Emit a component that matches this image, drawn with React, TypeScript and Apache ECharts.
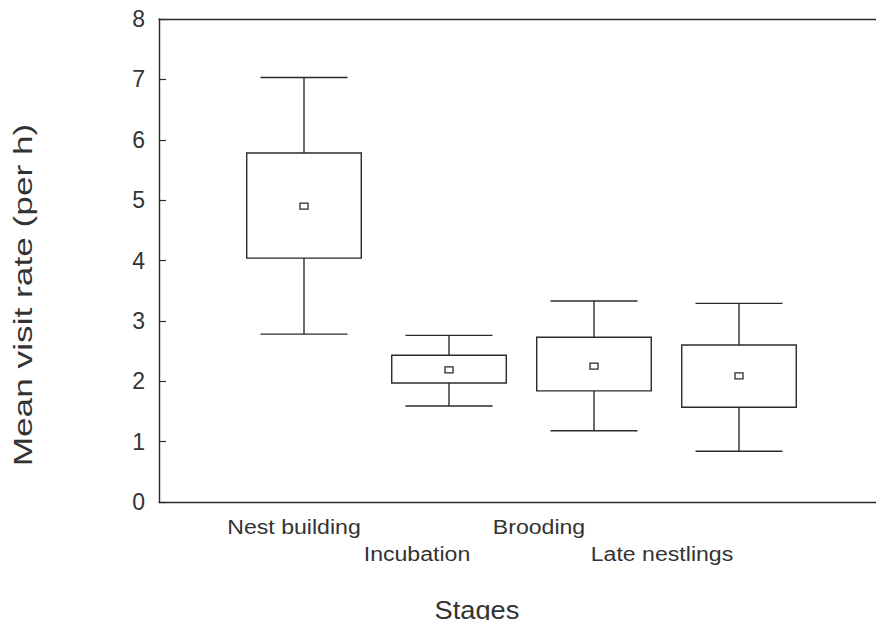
import React, { useEffect, useRef } from "react";
import * as echarts from "echarts";

// Visit rate per breeding stage: whisker low, box low, box high, whisker high, mean
const stages = ["Nest building", "Incubation", "Brooding", "Late nestlings"];
const stagePos = [1, 2, 3, 4];
const whiskerLow = [2.78, 1.59, 1.18, 0.84];
const boxLow = [4.04, 1.97, 1.84, 1.57];
const boxHigh = [5.78, 2.43, 2.73, 2.6];
const whiskerHigh = [7.03, 2.76, 3.33, 3.29];
const means = [4.9, 2.19, 2.25, 2.09];
const yTicks = [0, 1, 2, 3, 4, 5, 6, 7, 8];

const INK = "#2b2b2b";
const FONT = "'Liberation Sans', Arial, sans-serif";

export default function App() {
  const ref = useRef<HTMLDivElement>(null);

  useEffect(() => {
    if (!ref.current) return;
    const chart = echarts.init(ref.current, null, { renderer: "svg" });

    const data = stagePos.map((x, i) => [
      x,
      whiskerLow[i],
      boxLow[i],
      boxHigh[i],
      whiskerHigh[i],
      means[i],
    ]);

    const renderItem = (params: any, api: any) => {
      const x = api.value(0);
      const pLow = api.coord([x, api.value(1)]);
      const pQ1 = api.coord([x, api.value(2)]);
      const pQ3 = api.coord([x, api.value(3)]);
      const pHigh = api.coord([x, api.value(4)]);
      const pMean = api.coord([x, api.value(5)]);
      const boxW = api.size([0.79, 0])[0];
      const capW = api.size([0.6, 0])[0];
      const cx = pQ1[0];
      const lineStyle = { stroke: INK, lineWidth: 1.4, fill: "none" };
      return {
        type: "group",
        children: [
          {
            type: "rect",
            shape: { x: cx - boxW / 2, y: pQ3[1], width: boxW, height: pQ1[1] - pQ3[1] },
            style: { stroke: INK, lineWidth: 1.4, fill: "#fff" },
          },
          { type: "line", shape: { x1: cx, y1: pQ3[1], x2: cx, y2: pHigh[1] }, style: lineStyle },
          { type: "line", shape: { x1: cx, y1: pQ1[1], x2: cx, y2: pLow[1] }, style: lineStyle },
          {
            type: "line",
            shape: { x1: cx - capW / 2, y1: pHigh[1], x2: cx + capW / 2, y2: pHigh[1] },
            style: lineStyle,
          },
          {
            type: "line",
            shape: { x1: cx - capW / 2, y1: pLow[1], x2: cx + capW / 2, y2: pLow[1] },
            style: lineStyle,
          },
          {
            type: "rect",
            shape: { x: pMean[0] - 4, y: pMean[1] - 3, width: 8, height: 6 },
            style: { stroke: INK, lineWidth: 1.3, fill: "#fff" },
          },
        ],
      };
    };

    const labelPos = [
      [294, 527],
      [417, 554],
      [539, 527],
      [662, 554],
    ];

    const frameLine = { show: true, onZero: false, lineStyle: { color: INK, width: 1.4 } };

    chart.setOption({
      animation: false,
      backgroundColor: "#fff",
      grid: { left: 159, top: 19, width: 730, height: 483 },
      xAxis: [
        {
          type: "value",
          min: 0,
          max: 5,
          interval: 1,
          position: "bottom",
          axisLine: frameLine,
          axisTick: { show: false },
          axisLabel: { show: false },
          splitLine: { show: false },
        },
        {
          type: "value",
          min: 0,
          max: 5,
          interval: 1,
          position: "top",
          axisLine: frameLine,
          axisTick: { show: false },
          axisLabel: { show: false },
          splitLine: { show: false },
        },
      ],
      yAxis: [
        {
          type: "value",
          min: 0,
          max: 8,
          interval: 1,
          position: "left",
          axisLine: frameLine,
          axisTick: { show: true, inside: true, length: 7, lineStyle: { color: INK, width: 1.2 } },
          axisLabel: {
            color: "#333",
            fontFamily: FONT,
            fontSize: 23,
            margin: 14,
            formatter: (v: number) => (yTicks.includes(v) ? String(v) : ""),
          },
          splitLine: { show: false },
        },
        {
          type: "value",
          min: 0,
          max: 8,
          interval: 1,
          position: "right",
          axisLine: frameLine,
          axisTick: { show: true, inside: true, length: 7, lineStyle: { color: INK, width: 1.2 } },
          axisLabel: { show: false },
          splitLine: { show: false },
        },
      ],
      series: [
        {
          type: "custom",
          xAxisIndex: 0,
          yAxisIndex: 0,
          renderItem,
          data,
          z: 3,
        },
      ],
      graphic: [
        ...stages.map((s, i) => ({
          type: "text",
          x: labelPos[i][0],
          y: labelPos[i][1],
          scaleX: 1.1,
          style: {
            text: s,
            fontFamily: FONT,
            fontSize: 21,
            fill: "#333",
            align: "center",
            verticalAlign: "middle",
          },
        })),
        {
          type: "text",
          x: 477,
          y: 610,
          scaleX: 1.09,
          style: {
            text: "Stages",
            fontFamily: FONT,
            fontSize: 25,
            fill: "#333",
            align: "center",
            verticalAlign: "middle",
          },
        },
        {
          type: "text",
          x: 23,
          y: 295,
          rotation: Math.PI / 2,
          scaleX: 1.41,
          style: {
            text: "Mean visit rate (per h)",
            fontFamily: FONT,
            fontSize: 25,
            fill: "#333",
            align: "center",
            verticalAlign: "middle",
          },
        },
      ],
    });

    return () => chart.dispose();
  }, []);

  return <div ref={ref} style={{ width: 884, height: 628, margin: -8 }} />;
}
